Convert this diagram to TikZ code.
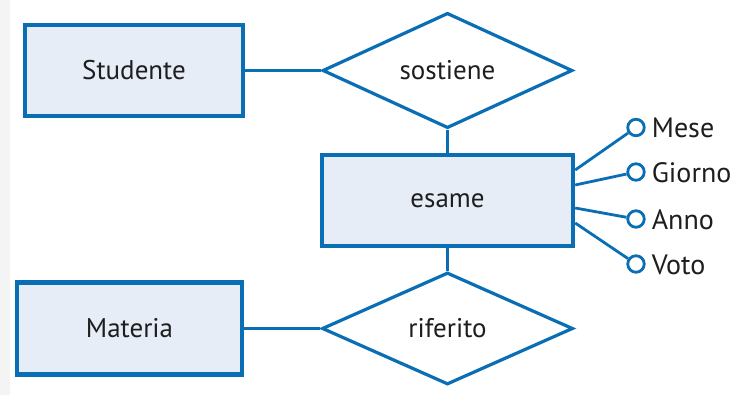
\documentclass[tikz,border=0pt]{standalone}
\usepackage{fontspec}
\setmainfont{PT Sans}
\usetikzlibrary{shapes.geometric,calc}
\definecolor{erblue}{HTML}{0A6EB4}
\definecolor{erfill}{HTML}{E6EDF7}
\definecolor{ertext}{HTML}{1E1E1E}
\definecolor{edgegray}{HTML}{F4F4F4}
\begin{document}
\begin{tikzpicture}[x=1pt,y=-1pt,
  entity/.style={rectangle, draw=erblue, fill=erfill, line width=4.4pt, inner sep=0pt,
    text=ertext, font=\fontsize{27}{30}\selectfont},
  relation/.style={diamond, draw=erblue, fill=white, line width=3.2pt, inner sep=0pt,
    text=ertext, font=\fontsize{27}{30}\selectfont},
  link/.style={draw=erblue, line width=3.4pt},
  attrlink/.style={draw=erblue, line width=2.8pt},
  attrdot/.style={circle, draw=erblue, fill=white, line width=2.8pt, minimum size=16.5pt, inner sep=0pt},
  attrtext/.style={anchor=west, inner sep=0pt, text=ertext, font=\fontsize{28}{30}\selectfont}
]
\useasboundingbox (0,0) rectangle (737,395);
\fill[white] (0,0) rectangle (737,395);
\fill[edgegray] (0,0) rectangle (10,395);

% entities
\node[entity, minimum width=218pt, minimum height=91pt] (stud) at (134,70.5) {Studente};
\node[entity, minimum width=251pt, minimum height=91pt] (esame) at (447.5,200.5) {esame};
\node[entity, minimum width=225pt, minimum height=92pt] (mat) at (129.5,328.5) {Materia};

% relationships
\node[relation, minimum width=250pt, minimum height=109pt] (sost) at (447.5,70.5) {sostiene};
\node[relation, minimum width=251pt, minimum height=112pt] (rif) at (447.5,328.5) {riferito};

% connectors
\draw[link] (stud.east) -- (sost.west);
\draw[link] (sost.south) -- (esame.north);
\draw[link] (esame.south) -- (rif.north);
\draw[link] (mat.east) -- (rif.west);

% attributes of esame
\coordinate (p1) at ($(esame.east)+(0,-30.5)$);
\coordinate (p2) at ($(esame.east)+(0,-15.5)$);
\coordinate (p3) at ($(esame.east)+(0,7.5)$);
\coordinate (p4) at ($(esame.east)+(0,22.5)$);

\node[attrdot] (mese) at (636,127.5) {};
\node[attrdot] (giorno) at (636,172) {};
\node[attrdot] (anno) at (636,219) {};
\node[attrdot] (voto) at (636,264) {};

\draw[attrlink] (p1) -- (mese);
\draw[attrlink] (p2) -- (giorno);
\draw[attrlink] (p3) -- (anno);
\draw[attrlink] (p4) -- (voto);

\node[attrtext] (meselbl) at ($(mese.east)+(6,0.5)$) {Mese};
\node[attrtext] (giornolbl) at ($(giorno.east)+(6,0.5)$) {Giorno};
\node[attrtext] (annolbl) at ($(anno.east)+(6,0.5)$) {Anno};
\node[attrtext] (votolbl) at ($(voto.east)+(6,0.5)$) {Voto};
\end{tikzpicture}
\end{document}
